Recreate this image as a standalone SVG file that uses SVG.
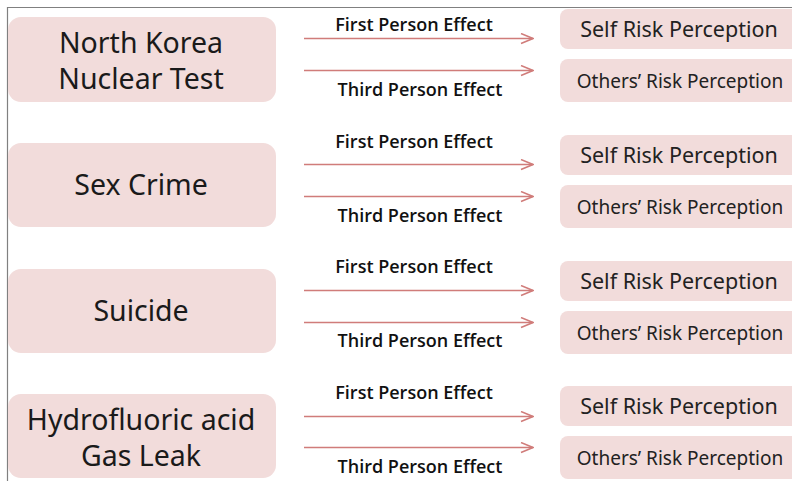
<svg xmlns="http://www.w3.org/2000/svg" width="792" height="481" viewBox="0 0 792 481">
<defs>
<marker id="ah" markerWidth="14" markerHeight="12" refX="13" refY="6" orient="auto" markerUnits="userSpaceOnUse">
<path d="M1,1 L13,6 L1,11" fill="none" stroke="#d07c7a" stroke-width="1.5"/>
</marker>
</defs>
<style>
.src{fill:#f2dcdb;}
.dst{fill:#f2dcdb;}
.t1{font-family:"Noto Sans","Open Sans",sans-serif;font-size:28.5px;fill:#1a1a1a;text-anchor:middle;}
.t2{font-family:"Noto Sans","Open Sans",sans-serif;font-size:21.5px;fill:#222;text-anchor:middle;}
.t3{font-family:"Noto Sans","Open Sans",sans-serif;font-size:19px;fill:#222;text-anchor:middle;}
.lab{font-family:"Open Sans","Noto Sans",sans-serif;font-size:18px;font-weight:600;fill:#111;text-anchor:middle;}
.arr{stroke:#d07c7a;stroke-width:1.5;fill:none;marker-end:url(#ah);}
</style>
<rect width="792" height="481" fill="#fff"/>
<path d="M7.5,481 L7.5,7.5 L792,7.5" fill="none" stroke="#808080" stroke-width="1.2"/>

<g id="n-nk"><rect class="src" x="8" y="17" width="268" height="85" rx="13"/><text class="t1" x="141" y="53">North Korea</text><text class="t1" x="141" y="89">Nuclear Test</text></g>
<g id="n-sc"><rect class="src" x="8" y="143" width="268" height="84" rx="13"/><text class="t1" x="141" y="195">Sex Crime</text></g>
<g id="n-su"><rect class="src" x="8" y="269" width="268" height="84" rx="13"/><text class="t1" x="141" y="321">Suicide</text></g>
<g id="n-hf"><rect class="src" x="8" y="394" width="268" height="84" rx="13"/><text class="t1" x="141" y="430">Hydrofluoric acid</text><text class="t1" x="141" y="466">Gas Leak</text></g>

<g id="n-self1"><rect class="dst" x="560" y="9" width="245" height="40" rx="8"/><text class="t2" x="679" y="37">Self Risk Perception</text></g>
<g id="n-oth1"><rect class="dst" x="560" y="59" width="245" height="43" rx="8"/><text class="t3" x="680" y="88">Others’ Risk Perception</text></g>
<g id="n-self2"><rect class="dst" x="560" y="135" width="245" height="40" rx="8"/><text class="t2" x="679" y="163">Self Risk Perception</text></g>
<g id="n-oth2"><rect class="dst" x="560" y="185" width="245" height="43" rx="8"/><text class="t3" x="680" y="214">Others’ Risk Perception</text></g>
<g id="n-self3"><rect class="dst" x="560" y="261" width="245" height="40" rx="8"/><text class="t2" x="679" y="289">Self Risk Perception</text></g>
<g id="n-oth3"><rect class="dst" x="560" y="311" width="245" height="43" rx="8"/><text class="t3" x="680" y="340">Others’ Risk Perception</text></g>
<g id="n-self4"><rect class="dst" x="560" y="386" width="245" height="40" rx="8"/><text class="t2" x="679" y="414">Self Risk Perception</text></g>
<g id="n-oth4"><rect class="dst" x="560" y="436" width="245" height="43" rx="8"/><text class="t3" x="680" y="465">Others’ Risk Perception</text></g>

<g id="connectors">
<line class="arr" x1="304" y1="38.5" x2="533" y2="38.5"/>
<line class="arr" x1="304" y1="70.5" x2="533" y2="70.5"/>
<line class="arr" x1="304" y1="164.5" x2="533" y2="164.5"/>
<line class="arr" x1="304" y1="196.5" x2="533" y2="196.5"/>
<line class="arr" x1="304" y1="290.5" x2="533" y2="290.5"/>
<line class="arr" x1="304" y1="322.5" x2="533" y2="322.5"/>
<line class="arr" x1="304" y1="416.5" x2="533" y2="416.5"/>
<line class="arr" x1="304" y1="447.5" x2="533" y2="447.5"/>
<text class="lab" x="414" y="31">First Person Effect</text>
<text class="lab" x="420" y="96">Third Person Effect</text>
<text class="lab" x="414" y="148">First Person Effect</text>
<text class="lab" x="420" y="222">Third Person Effect</text>
<text class="lab" x="414" y="273">First Person Effect</text>
<text class="lab" x="420" y="347">Third Person Effect</text>
<text class="lab" x="414" y="399">First Person Effect</text>
<text class="lab" x="420" y="473">Third Person Effect</text>
</g>
</svg>
